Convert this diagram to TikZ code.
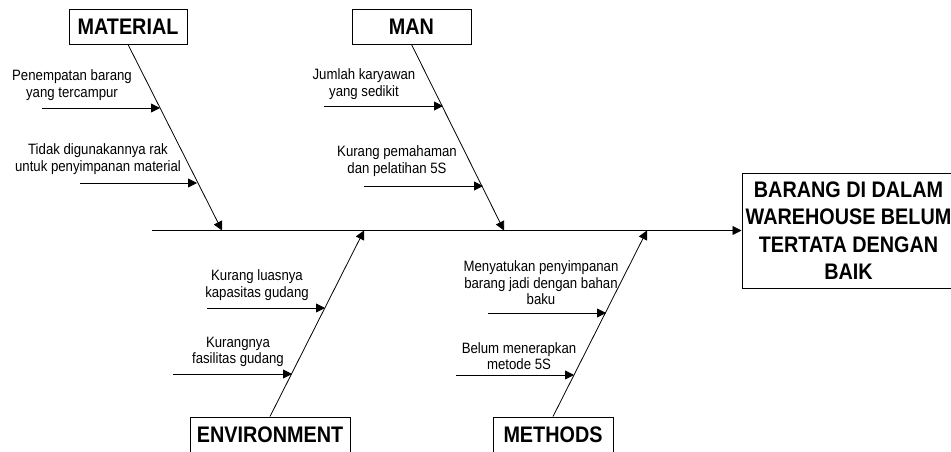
\documentclass[tikz,border=0pt]{standalone}
\usepackage{fontspec}
\setmainfont[FakeStretch=0.88]{Liberation Sans}
\usetikzlibrary{arrows.meta}
\tikzset{
  catbox/.style={draw,line width=1pt,minimum height=35pt,inner sep=0pt,font=\fontsize{22.5}{26}\selectfont\bfseries},
  causetext/.style={align=center,inner sep=0pt,font=\fontsize{15}{16.5}\selectfont},
  bone/.style={line width=0.8pt,-{Triangle[length=9pt,width=9pt]}},
}
\begin{document}
\begin{tikzpicture}[x=1pt,y=-1pt]
    \useasboundingbox (0,0) rectangle (951,451);
    % kotak kategori dan akibat
    \node[catbox,minimum width=118pt] (material) at (128,26.5) {MATERIAL};
    \node[catbox,minimum width=119pt] (man) at (411.5,26.5) {MAN};
    \node[catbox,minimum width=160pt] (environment) at (270,434.5) {ENVIRONMENT};
    \node[catbox,minimum width=120pt] (methods) at (553,434.5) {METHODS};
    \node[draw,line width=1pt,minimum width=213pt,minimum height=115pt,align=center,
          font=\fontsize{22.5}{27.5}\selectfont\bfseries] (effect) at (848.5,230.5)
          {BARANG DI DALAM\\WAREHOUSE BELUM\\TERTATA DENGAN\\BAIK};
    % tulang utama
    \coordinate (tail) at (152,230.5);
    \draw[bone] (tail) -- (effect.west);
    \coordinate (mattip) at (222,230.5);
    \coordinate (mantip) at (504,230.5);
    \coordinate (envtip) at (364,230.5);
    \coordinate (mettip) at (647,230.5);
    \draw[bone] (material.south) -- (mattip);
    \draw[bone] (man.south) -- (mantip);
    \draw[bone] (environment.north) -- (envtip);
    \draw[bone] (methods.north) -- (mettip);
    % penyebab
    \node[causetext] (mat1) at (72,85) {Penempatan barang\\yang tercampur};
    \node[causetext] (mat2) at (98,159) {Tidak digunakannya rak\\untuk penyimpanan material};
    \node[causetext] (man1) at (364,84) {Jumlah karyawan\\yang sedikit};
    \node[causetext] (man2) at (397,161) {Kurang pemahaman\\dan pelatihan 5S};
    \node[causetext] (env1) at (257,285) {Kurang luasnya\\kapasitas gudang};
    \node[causetext] (env2) at (238,352) {Kurangnya\\fasilitas gudang};
    \node[causetext] (met1) at (541,283) {Menyatukan penyimpanan\\barang jadi dengan bahan\\baku};
    \node[causetext] (met2) at (519,356) {Belum menerapkan\\metode 5S};
    \coordinate (mat1a) at (42,108);  \coordinate (mat1b) at (160,108);
    \coordinate (mat2a) at (80,183);  \coordinate (mat2b) at (197,183);
    \coordinate (man1a) at (324,106); \coordinate (man1b) at (443,106);
    \coordinate (man2a) at (364,186); \coordinate (man2b) at (483,186);
    \coordinate (env1a) at (207,308); \coordinate (env1b) at (325,308);
    \coordinate (env2a) at (173,374); \coordinate (env2b) at (292,374);
    \coordinate (met1a) at (488,313); \coordinate (met1b) at (606,313);
    \coordinate (met2a) at (456,375); \coordinate (met2b) at (574,375);
    \draw[bone] (mat1a) -- (mat1b);
    \draw[bone] (mat2a) -- (mat2b);
    \draw[bone] (man1a) -- (man1b);
    \draw[bone] (man2a) -- (man2b);
    \draw[bone] (env1a) -- (env1b);
    \draw[bone] (env2a) -- (env2b);
    \draw[bone] (met1a) -- (met1b);
    \draw[bone] (met2a) -- (met2b);
\end{tikzpicture}
\end{document}
